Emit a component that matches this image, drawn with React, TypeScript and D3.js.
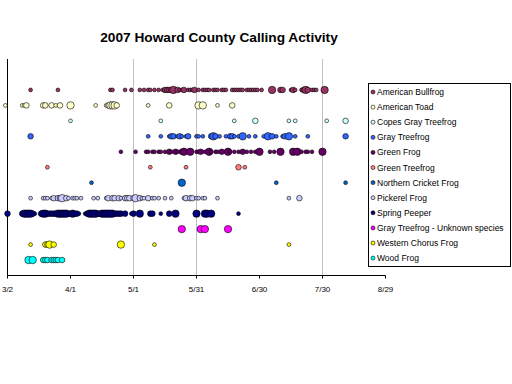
import React from "react";
import * as d3 from "d3";

type Pt = [string, number];

const title = "2007 Howard County Calling Activity";

const species = [
  "American Bullfrog",
  "American Toad",
  "Copes Gray Treefrog",
  "Gray Treefrog",
  "Green Frog",
  "Green Treefrog",
  "Northern Cricket Frog",
  "Pickerel Frog",
  "Spring Peeper",
  "Gray Treefrog - Unknown species",
  "Western Chorus Frog",
  "Wood Frog",
];

const colors = [
  "#993366", "#FFFFCC", "#CCFFFF", "#3366FF", "#660066", "#FF8080",
  "#0066CC", "#CCCCFF", "#000080", "#FF00FF", "#FFFF00", "#00FFFF",
];

const rowValues = [12, 11, 10, 9, 8, 7, 6, 5, 4, 3, 2, 1];

const bullfrog: Pt[] = [
  ["3/13", 1], ["3/26", 1], ["4/20", 1], ["4/21", 1], ["4/27", 1], ["4/30", 1], ["5/4", 1], ["5/6", 1],
  ["5/8", 1], ["5/9", 1], ["5/11", 1], ["5/13", 1], ["5/15", 1], ["5/16", 2], ["5/17", 2], ["5/18", 2],
  ["5/19", 2], ["5/20", 3], ["5/22", 2], ["5/23", 1], ["5/24", 1], ["5/25", 2], ["5/27", 1], ["5/28", 1],
  ["5/29", 1], ["5/30", 2], ["6/1", 1], ["6/3", 1], ["6/4", 1], ["6/5", 1], ["6/6", 1], ["6/8", 1],
  ["6/9", 1], ["6/10", 1], ["6/12", 1], ["6/13", 1], ["6/14", 1], ["6/17", 1], ["6/18", 1], ["6/19", 1],
  ["6/20", 1], ["6/21", 1], ["6/22", 1], ["6/24", 1], ["6/25", 1], ["6/26", 1], ["6/27", 1], ["6/28", 1],
  ["6/29", 1], ["7/1", 1], ["7/6", 3], ["7/10", 2], ["7/11", 2], ["7/15", 1], ["7/16", 2], ["7/17", 1],
  ["7/20", 1], ["7/21", 2], ["7/22", 3], ["7/23", 2], ["7/25", 1], ["7/26", 1], ["7/27", 1], ["7/31", 3],
];

const americanToad: Pt[] = [
  ["3/1", 1], ["3/9", 1], ["3/10", 1], ["3/11", 2], ["3/19", 2], ["3/20", 2], ["3/23", 2], ["3/25", 1],
  ["3/27", 2], ["4/1", 3], ["4/13", 1], ["4/18", 1], ["4/19", 2], ["4/20", 3], ["4/21", 3], ["4/22", 3],
  ["4/23", 2], ["5/8", 1], ["5/18", 2], ["6/1", 3], ["6/3", 3], ["6/10", 1], ["6/17", 2],
];

const copesGray: Pt[] = [
  ["4/1", 1], ["5/14", 1], ["6/18", 1], ["6/28", 2], ["7/14", 1], ["7/17", 1], ["8/1", 1], ["8/10", 2],
];

const grayTreefrog: Pt[] = [
  ["3/13", 2], ["5/8", 1], ["5/14", 1], ["5/18", 1], ["5/19", 2], ["5/20", 2], ["5/22", 1], ["5/23", 2],
  ["5/24", 1], ["5/26", 1], ["5/27", 2], ["5/31", 1], ["6/1", 1], ["6/3", 1], ["6/7", 2], ["6/8", 3],
  ["6/9", 2], ["6/11", 1], ["6/14", 1], ["6/16", 2], ["6/17", 2], ["6/18", 1], ["6/20", 1], ["6/22", 3],
  ["6/25", 1], ["6/28", 1], ["7/2", 1], ["7/4", 3], ["7/6", 2], ["7/8", 1], ["7/11", 1], ["7/12", 2],
  ["7/14", 3], ["7/17", 1], ["7/23", 1], ["8/10", 2],
];

const greenFrog: Pt[] = [
  ["4/25", 1], ["5/2", 1], ["5/7", 1], ["5/8", 1], ["5/10", 1], ["5/11", 1], ["5/13", 1], ["5/14", 1],
  ["5/16", 1], ["5/18", 2], ["5/19", 1], ["5/21", 2], ["5/22", 1], ["5/24", 2], ["5/25", 3], ["5/27", 1],
  ["5/28", 3], ["5/31", 1], ["6/1", 1], ["6/2", 2], ["6/4", 1], ["6/6", 3], ["6/7", 1], ["6/9", 1],
  ["6/10", 1], ["6/12", 2], ["6/14", 1], ["6/15", 3], ["6/16", 1], ["6/18", 1], ["6/20", 1], ["6/22", 2],
  ["6/24", 1], ["6/26", 1], ["6/28", 1], ["6/30", 3], ["7/5", 1], ["7/7", 1], ["7/10", 3], ["7/16", 3],
  ["7/18", 3], ["7/20", 1], ["7/22", 1], ["7/23", 1], ["7/25", 1], ["7/30", 3],
];

const greenTreefrog: Pt[] = [
  ["3/21", 1], ["5/9", 1], ["5/26", 1], ["6/20", 2], ["6/23", 1],
];

const cricketFrog: Pt[] = [
  ["4/11", 1], ["5/24", 3], ["7/8", 1], ["8/10", 1],
];

const pickerelFrog: Pt[] = [
  ["3/13", 1], ["3/19", 1], ["3/20", 1], ["3/21", 1], ["3/23", 1], ["3/24", 2], ["3/26", 2], ["3/27", 2],
  ["3/28", 3], ["3/30", 2], ["3/31", 1], ["4/2", 1], ["4/3", 1], ["4/4", 1], ["4/6", 1], ["4/12", 1],
  ["4/14", 1], ["4/18", 1], ["4/19", 2], ["4/21", 2], ["4/22", 2], ["4/24", 2], ["4/25", 1], ["4/27", 2],
  ["4/28", 2], ["4/29", 2], ["5/1", 2], ["5/2", 3], ["5/4", 2], ["5/5", 1], ["5/6", 1], ["5/8", 2],
  ["5/10", 1], ["5/11", 1], ["5/13", 1], ["5/16", 1], ["5/19", 1], ["5/25", 1], ["5/26", 2], ["5/28", 2],
  ["5/29", 2], ["5/31", 1], ["6/1", 1], ["6/3", 1], ["6/4", 1], ["6/10", 1], ["7/14", 1], ["7/19", 2],
];

const springPeeper: Pt[] = [
  ["3/2", 2], ["3/9", 2], ["3/10", 3], ["3/11", 3], ["3/12", 3], ["3/13", 3], ["3/14", 2], ["3/15", 1],
  ["3/18", 2], ["3/19", 3], ["3/20", 3], ["3/21", 2], ["3/22", 2], ["3/23", 2], ["3/24", 2], ["3/25", 2],
  ["3/26", 3], ["3/27", 3], ["3/28", 3], ["3/29", 3], ["3/30", 3], ["3/31", 2], ["4/1", 2], ["4/2", 3],
  ["4/3", 2], ["4/4", 2], ["4/5", 1], ["4/8", 1], ["4/9", 2], ["4/10", 3], ["4/11", 3], ["4/12", 3],
  ["4/13", 3], ["4/14", 2], ["4/15", 2], ["4/16", 3], ["4/17", 3], ["4/18", 3], ["4/19", 3], ["4/20", 3],
  ["4/21", 3], ["4/22", 2], ["4/23", 2], ["4/24", 2], ["4/25", 2], ["4/26", 1], ["4/27", 2], ["4/30", 1],
  ["5/1", 2], ["5/4", 3], ["5/9", 2], ["5/10", 2], ["5/14", 1], ["5/18", 2], ["5/21", 3], ["5/31", 3],
  ["6/4", 3], ["6/5", 3], ["6/7", 3], ["6/20", 1],
];

const unknownTreefrog: Pt[] = [
  ["5/24", 3], ["6/2", 3], ["6/4", 3], ["6/15", 3],
];

const westernChorus: Pt[] = [
  ["3/13", 1], ["3/20", 2], ["3/21", 2], ["3/22", 3], ["3/24", 2], ["4/25", 3], ["5/11", 1], ["7/14", 1],
];

const woodFrog: Pt[] = [
  ["3/12", 3], ["3/14", 3], ["3/19", 2], ["3/20", 2], ["3/21", 2], ["3/23", 2], ["3/24", 2], ["3/25", 2],
  ["3/26", 2], ["3/28", 2],
];

const seriesData: Pt[][] = [
  bullfrog, americanToad, copesGray, grayTreefrog, greenFrog, greenTreefrog,
  cricketFrog, pickerelFrog, springPeeper, unknownTreefrog, westernChorus, woodFrog,
];

const tickLabels = ["3/2", "4/1", "5/1", "5/31", "6/30", "7/30", "8/29"];
const gridDates = ["5/1", "5/31", "7/30"];

const parse = (s: string) => d3.utcParse("%m/%d/%Y")(s + "/2007") as Date;

export default function App() {
  const W = 512, H = 384;
  const left = 7.5, right = 385.5, top = 59, bottom = 275.5;
  const x = d3.scaleUtc().domain([parse("3/2"), parse("8/29")]).range([left, right]);
  const y = d3.scaleLinear().domain([0, 14]).range([bottom, top]);
  const r = d3.scaleOrdinal<number, number>().domain([1, 2, 3]).range([1.9, 2.8, 3.7]);

  const legX = 368.5, legY = 83.5, legW = 142, legH = 183;
  const legStep = 15.1;

  return (
    <svg width={W} height={H} style={{ position: "absolute", left: 0, top: 0, background: "#fff" }}
      fontFamily="'Liberation Sans', Arial, sans-serif">
      <rect x={0} y={0} width={W} height={H} fill="#fff" />
      <text x={219} y={41.5} textAnchor="middle" fontSize={13.7} fontWeight="bold" fill="#000">{title}</text>
      {gridDates.map((g) => (
        <line key={g} x1={x(parse(g))} x2={x(parse(g))} y1={top} y2={bottom} stroke="#c0c0c0" strokeWidth={1} />
      ))}
      <line x1={left} x2={left} y1={top} y2={bottom} stroke="#000" strokeWidth={1} />
      <line x1={left} x2={right} y1={bottom} y2={bottom} stroke="#000" strokeWidth={1} />
      {tickLabels.map((t) => (
        <g key={t}>
          <line x1={x(parse(t))} x2={x(parse(t))} y1={bottom} y2={bottom + 3} stroke="#000" />
          <text x={x(parse(t))} y={292} textAnchor="middle" fontSize={8} fill="#000">{t}</text>
        </g>
      ))}
      {seriesData.map((pts, i) => (
        <g key={species[i]}>
          {pts.map(([d, s], j) => (
            <circle key={j} cx={x(parse(d))} cy={y(rowValues[i])} r={r(s)} fill={colors[i]}
              stroke="#000" strokeWidth={0.6} />
          ))}
        </g>
      ))}
      <rect x={legX} y={legY} width={legW} height={legH} fill="#fff" stroke="#000" strokeWidth={1} />
      {species.map((sp, i) => (
        <g key={sp}>
          <circle cx={373} cy={legY + 8.5 + i * legStep} r={2} fill={colors[i]} stroke="#000" strokeWidth={0.6} />
          <text x={377} y={legY + 8.5 + i * legStep + 3} fontSize={8.5} fill="#000">{sp}</text>
        </g>
      ))}
    </svg>
  );
}
